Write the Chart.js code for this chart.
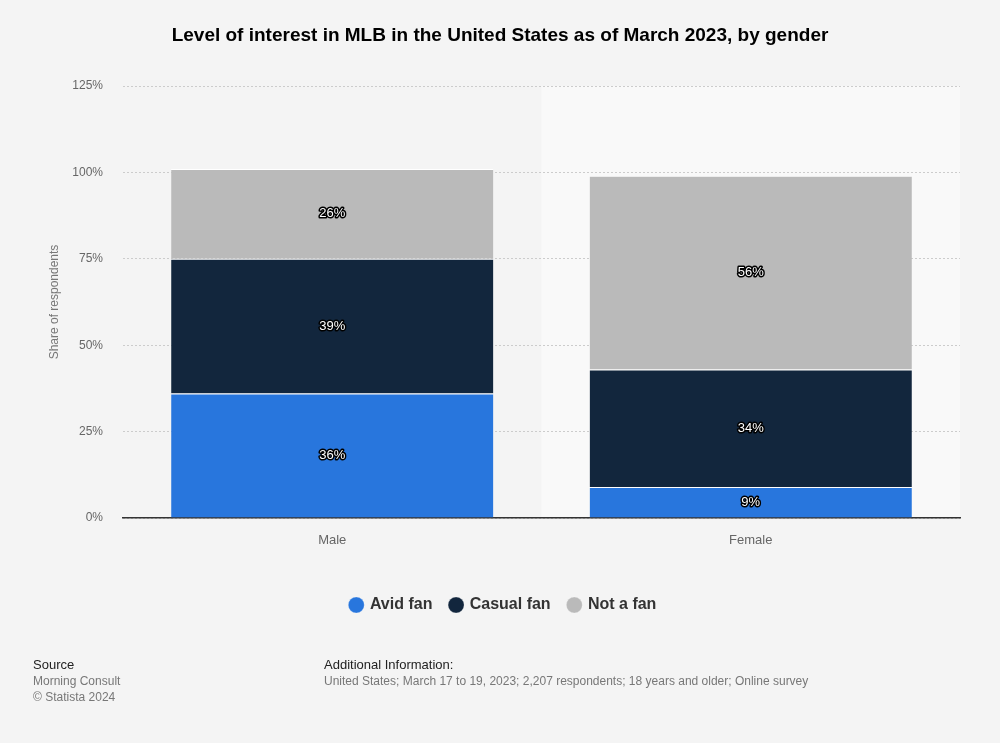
<!DOCTYPE html>
<html>
<head>
<meta charset="utf-8">
<script src="https://cdn.jsdelivr.net/npm/chart.js@4"></script>
<style>
  html, body { margin:0; padding:0; background:#f4f4f4; }
  #wrap { position:relative; width:1000px; height:743px; font-family:"Liberation Sans", Arial, sans-serif; }
  #title { position:absolute; left:0; top:24px; width:1000px; text-align:center; font-size:19px; font-weight:bold; color:#000; }
  canvas { position:absolute; left:0; top:0; }
  .ft { position:absolute; font-size:12px; color:#777; line-height:16px; }
  .ft b { font-weight:normal; color:#222; font-size:13px; }
</style>
</head>
<body>
<div id="wrap">
  <canvas id="c" width="1000" height="743"></canvas>
  <div id="title">Level of interest in MLB in the United States as of March 2023, by gender</div>
  <div class="ft" style="left:33px; top:657px;"><b>Source</b><br>Morning Consult<br>© Statista 2024</div>
  <div class="ft" style="left:324px; top:657px;"><b>Additional Information:</b><br>United States; March 17 to 19, 2023; 2,207 respondents; 18 years and older; Online survey</div>
</div>
<script>
const categories = ["Male", "Female"];
const avidFan = [36, 9];
const casualFan = [39, 34];
const notAFan = [26, 56];
const seriesNames = ["Avid fan", "Casual fan", "Not a fan"];
const seriesColors = ["#2876dd", "#12263d", "#bababa"];
const yTicks = [0, 25, 50, 75, 100, 125];
const highlightedCategory = 1;

const highlightPlugin = {
  id: 'highlight',
  beforeDraw(chart) {
    const x = chart.scales.x, a = chart.chartArea, ctx = chart.ctx;
    const w = x.width / categories.length;
    const left = x.getPixelForValue(highlightedCategory) - w / 2;
    ctx.save();
    ctx.fillStyle = '#f9f9f9';
    ctx.fillRect(left, a.top, w, a.bottom - a.top);
    ctx.restore();
  }
};

const labelPlugin = {
  id: 'barLabels',
  afterDatasetsDraw(chart) {
    const ctx = chart.ctx;
    ctx.save();
    ctx.font = '13px "Liberation Sans", Arial, sans-serif';
    ctx.textAlign = 'center';
    ctx.textBaseline = 'middle';
    ctx.lineJoin = 'round';
    chart.data.datasets.forEach((ds, i) => {
      const meta = chart.getDatasetMeta(i);
      meta.data.forEach((bar, j) => {
        const t = ds.data[j] + '%';
        const y = (bar.y + bar.base) / 2;
        ctx.lineWidth = 3;
        ctx.strokeStyle = '#000';
        ctx.strokeText(t, bar.x, y);
        ctx.fillStyle = '#fff';
        ctx.fillText(t, bar.x, y);
      });
    });
    ctx.restore();
  }
};

const values = [avidFan, casualFan, notAFan];
new Chart(document.getElementById('c'), {
  type: 'bar',
  data: {
    labels: categories,
    datasets: seriesNames.map((n, i) => ({
      label: n,
      data: values[i],
      backgroundColor: seriesColors[i],
      borderColor: '#ffffff',
      borderWidth: {top: 1, bottom: 0, left: 0, right: 0},
      borderSkipped: false,
      categoryPercentage: 0.77,
      barPercentage: 1.0
    }))
  },
  options: {
    responsive: false,
    animation: false,
    events: [],
    layout: { padding: { top: 86, right: 40, left: 47, bottom: 120 } },
    plugins: {
      title: { display: false },
      tooltip: { enabled: false },
      legend: {
        position: 'bottom',
        labels: {
          usePointStyle: true,
          pointStyle: 'circle',
          boxWidth: 11.3,
          boxHeight: 11.3,
          padding: 18,
          color: '#333',
          font: { family: '"Liberation Sans", Arial, sans-serif', size: 16, weight: 'bold' }
        }
      }
    },
    scales: {
      x: {
        stacked: true,
        grid: { display: false, drawTicks: false },
        border: { display: true, color: '#333', width: 1.5 },
        ticks: { color: '#666', padding: 15, font: { family: '"Liberation Sans", Arial, sans-serif', size: 13 } },
        afterFit(s) { s.height = 61; }
      },
      y: {
        stacked: true,
        min: 0, max: 125,
        afterBuildTicks(s) { s.ticks = yTicks.map(v => ({ value: v })); },
        grid: { color: '#cccccc', lineWidth: 1, drawTicks: false },
        border: { display: false, dash: [2, 2] },
        ticks: {
          color: '#666', padding: 20,
          font: { family: '"Liberation Sans", Arial, sans-serif', size: 12 },
          callback: v => v + '%'
        },
        title: { display: true, text: 'Share of respondents', color: '#777', padding: { top: 0, bottom: 0 },
          font: { family: '"Liberation Sans", Arial, sans-serif', size: 12 } },
        afterFit(s) { s.width = 76; }
      }
    }
  },
  plugins: [highlightPlugin, labelPlugin]
});
</script>
</body>
</html>
